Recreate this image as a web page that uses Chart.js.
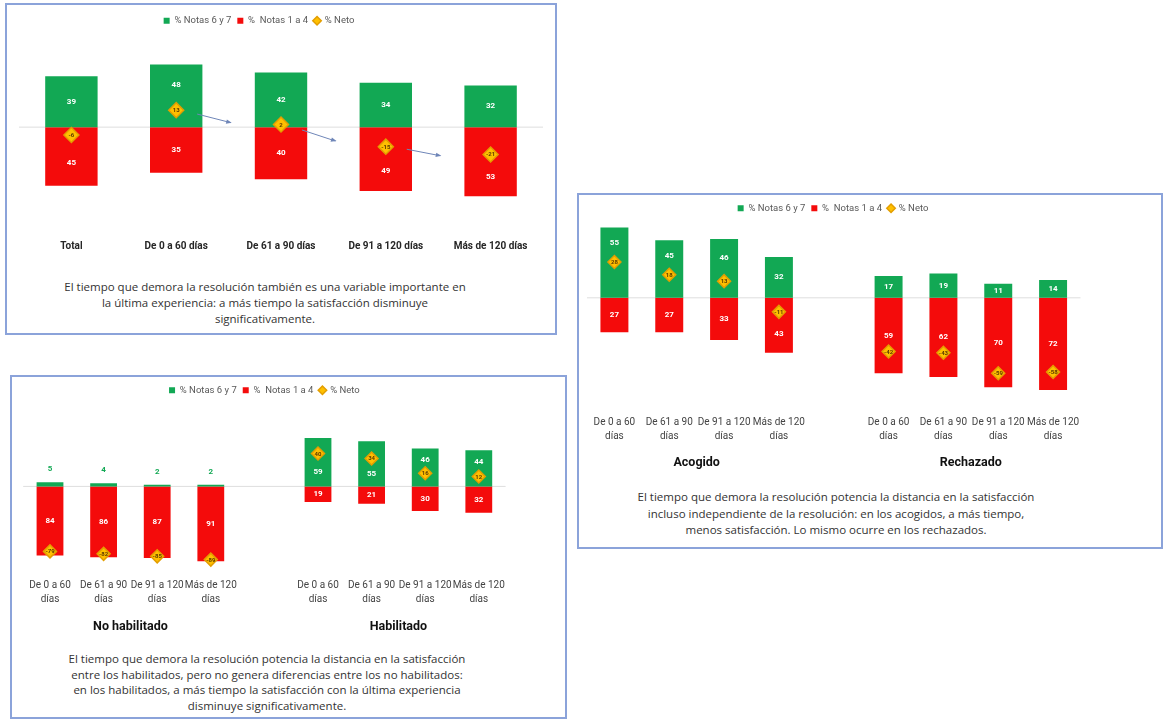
<!DOCTYPE html>
<html lang="es">
<head>
<meta charset="utf-8">
<title>Tiempo de resolución y satisfacción</title>
<script src="https://cdn.jsdelivr.net/npm/chart.js@4.4.1/dist/chart.umd.min.js"></script>
<style>
  body { margin: 0; background: #fff; width: 1164px; height: 719px; position: relative; overflow: hidden; font-family: Roboto, sans-serif; }
  .caja { position: absolute; border: 2px solid #8ba3da; box-sizing: border-box; }
  canvas { position: absolute; }
  .nota { position: absolute; text-align: center; color: #333; font-size: 11.5px; font-family: "Open Sans", sans-serif; }
</style>
</head>
<body>
<div class="caja" style="left:5px;top:3px;width:552px;height:332px"></div>
<div class="caja" style="left:577px;top:193px;width:586px;height:356px"></div>
<div class="caja" style="left:10px;top:375px;width:557px;height:344px"></div>

<canvas id="graficoTotal" width="548" height="262" style="left:7px;top:5px"></canvas>
<canvas id="graficoResolucion" width="582" height="285" style="left:579px;top:195px"></canvas>
<canvas id="graficoHabilitado" width="553" height="262" style="left:12px;top:377px"></canvas>

<div class="nota" style="left:40px;top:279px;width:450px;line-height:16px">El tiempo que demora la resolución también es una variable importante en<br>la última experiencia: a más tiempo la satisfacción disminuye<br>significativamente.</div>
<div class="nota" style="left:606px;top:489px;width:460px;line-height:16.5px">El tiempo que demora la resolución potencia la distancia en la satisfacción<br>incluso independiente de la resolución: en los acogidos, a más tiempo,<br>menos satisfacción. Lo mismo ocurre en los rechazados.</div>
<div class="nota" style="left:37px;top:651px;width:460px;line-height:15.5px">El tiempo que demora la resolución potencia la distancia en la satisfacción<br>entre los habilitados, pero no genera diferencias entre los no habilitados:<br>en los habilitados, a más tiempo la satisfacción con la última experiencia<br>disminuye significativamente.</div>

<script>
// --- datos ---
const categoriasTotal = ['Total', 'De 0 a 60 días', 'De 61 a 90 días', 'De 91 a 120 días', 'Más de 120 días'];
const totalNotas67 = [39, 48, 42, 34, 32];
const totalNotas14 = [45, 35, 40, 49, 53];
const totalNeto = [-6, 13, 2, -15, -21];

const tramosTiempo = [['De 0 a 60', 'días'], ['De 61 a 90', 'días'], ['De 91 a 120', 'días'], ['Más de 120', 'días']];

const acogidoNotas67 = [55, 45, 46, 32];
const acogidoNotas14 = [27, 27, 33, 43];
const acogidoNeto = [28, 18, 13, -11];
const rechazadoNotas67 = [17, 19, 11, 14];
const rechazadoNotas14 = [59, 62, 70, 72];
const rechazadoNeto = [-42, -43, -59, -58];

const noHabilitadoNotas67 = [5, 4, 2, 2];
const noHabilitadoNotas14 = [84, 86, 87, 91];
const noHabilitadoNeto = [-79, -82, -85, -89];
const habilitadoNotas67 = [59, 55, 46, 44];
const habilitadoNotas14 = [19, 21, 30, 32];
const habilitadoNeto = [40, 34, 16, 12];

const COLOR_VERDE = '#12a854';
const COLOR_ROJO = '#f40b0b';
const COLOR_NETO = '#ffc000';

// posición vertical de la etiqueta de una barra, apartándola del rombo del neto
function posicionValor(base, fin, yNeto, umbral) {
    const alto = Math.abs(fin - base);
    const centro = (base + fin) / 2;
    if (alto < 12) return { y: fin + Math.sign(fin - base) * 13, fuera: true };
    const arriba = Math.min(base, fin) - 8, abajo = Math.max(base, fin) + 8;
    const dentro = yNeto >= arriba && yNeto <= abajo;
    if (!dentro || Math.abs(centro - yNeto) >= umbral) return { y: centro, fuera: false };
    const haciaFin = Math.abs(fin - yNeto);
    const haciaBase = Math.abs(yNeto - base);
    if (haciaBase > haciaFin * 1.3) {
        return { y: yNeto + Math.sign(base - yNeto) * Math.max(13, 0.55 * haciaBase), fuera: false };
    }
    return { y: yNeto + Math.sign(fin - yNeto) * Math.max(13, 0.55 * haciaFin), fuera: false };
}

const pluginEtiquetas = {
    id: 'etiquetas',
    afterDatasetsDraw(chart, args, opts) {
        const ctx = chart.ctx;
        const mPos = chart.getDatasetMeta(0);
        const mNeg = chart.getDatasetMeta(1);
        const mNeto = chart.getDatasetMeta(2);
        const dNeto = chart.data.datasets[2].data;
        ctx.save();
        ctx.textAlign = 'center';
        ctx.textBaseline = 'middle';
        chart.data.datasets[0].data.forEach((v, i) => {
            if (v === null) return;
            const yNeto = mNeto.data[i].y;
            [[mPos, v], [mNeg, chart.data.datasets[1].data[i]]].forEach(([meta, valor]) => {
                const barra = meta.data[i];
                const p = posicionValor(barra.base, barra.y, yNeto, opts.umbral);
                ctx.font = 'bold 8px Roboto';
                ctx.fillStyle = p.fuera ? COLOR_VERDE : '#ffffff';
                ctx.fillText(Math.abs(valor), barra.x, p.y);
            });
            ctx.font = 'bold 6px Roboto';
            ctx.fillStyle = '#5b3900';
            ctx.fillText(dNeto[i], mNeto.data[i].x, yNeto + 0.5);
        });
        ctx.restore();
    }
};

// línea gris del cero
const pluginCero = {
    id: 'lineaCero',
    beforeDatasetsDraw(chart) {
        const ctx = chart.ctx;
        const y = chart.scales.y.getPixelForValue(0);
        ctx.save();
        ctx.strokeStyle = '#dedede';
        ctx.lineWidth = 1;
        ctx.beginPath();
        ctx.moveTo(chart.chartArea.left, y);
        ctx.lineTo(chart.chartArea.right, y);
        ctx.stroke();
        ctx.restore();
    }
};

// títulos de grupo bajo las etiquetas del eje x
const pluginGrupos = {
    id: 'grupos',
    afterDraw(chart, args, opts) {
        if (!opts.lista) return;
        const ctx = chart.ctx;
        const x = chart.scales.x;
        ctx.save();
        ctx.font = 'bold 12.5px Roboto';
        ctx.fillStyle = '#111';
        ctx.textAlign = 'center';
        ctx.textBaseline = 'middle';
        opts.lista.forEach(g => {
            const cx = (x.getPixelForValue(g.desde) + x.getPixelForValue(g.hasta)) / 2;
            ctx.fillText(g.texto, cx, chart.chartArea.bottom + opts.dy);
        });
        ctx.restore();
    }
};

// flechas entre los netos del primer gráfico
const pluginFlechas = {
    id: 'flechas',
    afterDatasetsDraw(chart, args, opts) {
        if (!opts.activo) return;
        const ctx = chart.ctx;
        const puntos = chart.getDatasetMeta(2).data;
        ctx.save();
        ctx.strokeStyle = '#6f86b8';
        ctx.fillStyle = '#6f86b8';
        ctx.lineWidth = 1;
        for (let i = 1; i < puntos.length - 1; i++) {
            const a = puntos[i], b = puntos[i + 1];
            const x0 = a.x + (b.x - a.x) * 0.2, y0 = a.y + (b.y - a.y) * 0.2 + 1;
            const x1 = a.x + (b.x - a.x) * 0.52, y1 = a.y + (b.y - a.y) * 0.52 + 5;
            const ang = Math.atan2(y1 - y0, x1 - x0);
            ctx.beginPath();
            ctx.moveTo(x0, y0);
            ctx.lineTo(x1, y1);
            ctx.stroke();
            ctx.beginPath();
            ctx.moveTo(x1 + 1, y1);
            ctx.lineTo(x1 - 5 * Math.cos(ang - 0.45), y1 - 5 * Math.sin(ang - 0.45));
            ctx.lineTo(x1 - 5 * Math.cos(ang + 0.45), y1 - 5 * Math.sin(ang + 0.45));
            ctx.closePath();
            ctx.fill();
        }
        ctx.restore();
    }
};

const pluginLeyenda = {
    id: 'desplazarLeyenda',
    afterLayout(chart, args, opts) {
        const dx = opts.dx || 0;
        if (chart.legend && dx) {
            chart.legend.left += dx;
            chart.legend.right += dx;
        }
    }
};

function crearGrafico(idCanvas, etiquetas, positivos, negativos, neto, conf) {
    const ctx = document.getElementById(idCanvas).getContext('2d');
    return new Chart(ctx, {
        data: {
            labels: etiquetas,
            datasets: [
                {
                    type: 'bar',
                    label: '% Notas 6 y 7',
                    data: positivos,
                    backgroundColor: COLOR_VERDE,
                    stack: 'notas',
                    order: 1,
                    pointStyle: 'rect',
                    barPercentage: conf.anchoBarra,
                    categoryPercentage: 1
                },
                {
                    type: 'bar',
                    label: '%  Notas 1 a 4',
                    data: negativos.map(v => v === null ? null : -v),
                    backgroundColor: COLOR_ROJO,
                    stack: 'notas',
                    order: 1,
                    pointStyle: 'rect',
                    barPercentage: conf.anchoBarra,
                    categoryPercentage: 1
                },
                {
                    type: 'line',
                    label: '% Neto',
                    data: neto,
                    stack: 'neto',
                    order: 0,
                    showLine: false,
                    pointStyle: 'rectRot',
                    pointRadius: conf.radioNeto,
                    pointHoverRadius: conf.radioNeto,
                    backgroundColor: COLOR_NETO,
                    borderColor: '#e39e00',
                    pointBackgroundColor: COLOR_NETO,
                    pointBorderColor: '#e39e00',
                    pointBorderWidth: 1.5
                }
            ]
        },
        options: {
            responsive: false,
            animation: false,
            events: [],
            layout: { padding: conf.padding },
            scales: {
                x: {
                    stacked: true,
                    grid: { display: false, drawTicks: false },
                    border: { display: false },
                    ticks: {
                        padding: conf.separacionTicks,
                        color: conf.colorTicks,
                        font: conf.fuenteTicks,
                        maxRotation: 0,
                        autoSkip: false
                    }
                },
                y: {
                    display: false,
                    stacked: true,
                    min: conf.min,
                    max: conf.max
                }
            },
            plugins: {
                legend: {
                    position: 'top',
                    labels: {
                        usePointStyle: true,
                        boxWidth: 6,
                        boxHeight: 6,
                        padding: 6,
                        color: '#595959',
                        font: { family: 'Roboto', size: 9.5 },
                        sort: (a, b) => a.datasetIndex - b.datasetIndex
                    }
                },
                tooltip: { enabled: false },
                etiquetas: { umbral: conf.umbral },
                grupos: { lista: conf.grupos, dy: conf.dyGrupos },
                flechas: { activo: conf.flechas },
                desplazarLeyenda: { dx: conf.dxLeyenda }
            }
        },
        plugins: [pluginCero, pluginEtiquetas, pluginGrupos, pluginFlechas, pluginLeyenda]
    });
}

crearGrafico('graficoTotal', categoriasTotal, totalNotas67, totalNotas14, totalNeto, {
    anchoBarra: 0.5,
    radioNeto: 7.5,
    padding: { top: 5, left: 12, right: 12, bottom: 5.6 },
    separacionTicks: 9,
    colorTicks: '#262626',
    fuenteTicks: { family: 'Roboto', size: 10, weight: 'bold' },
    min: -80,
    max: 70.3,
    umbral: 22,
    flechas: true,
    dxLeyenda: -22
});

crearGrafico('graficoResolucion',
    [...tramosTiempo, '', ...tramosTiempo],
    [...acogidoNotas67, null, ...rechazadoNotas67],
    [...acogidoNotas14, null, ...rechazadoNotas14],
    [...acogidoNeto, null, ...rechazadoNeto], {
    anchoBarra: 0.51,
    radioNeto: 6.5,
    padding: { top: 2.5, left: 6.5, right: 80.5, bottom: 27.5 },
    separacionTicks: 9,
    colorTicks: '#444',
    fuenteTicks: { family: 'Roboto', size: 10, lineHeight: 1.4 },
    min: -85,
    max: 58.5,
    umbral: 15,
    grupos: [{ texto: 'Acogido', desde: 1, hasta: 2 }, { texto: 'Rechazado', desde: 6, hasta: 7 }],
    dyGrupos: 56
});

crearGrafico('graficoHabilitado',
    [...tramosTiempo, '', ...tramosTiempo],
    [...noHabilitadoNotas67, null, ...habilitadoNotas67],
    [...noHabilitadoNotas14, null, ...habilitadoNotas14],
    [...noHabilitadoNeto, null, ...habilitadoNeto], {
    anchoBarra: 0.5,
    radioNeto: 6.5,
    padding: { top: 2.5, left: 11.2, right: 59.4, bottom: 24.7 },
    separacionTicks: 8,
    colorTicks: '#444',
    fuenteTicks: { family: 'Roboto', size: 10, lineHeight: 1.4 },
    min: -102,
    max: 99,
    umbral: 14,
    grupos: [{ texto: 'No habilitado', desde: 1, hasta: 2 }, { texto: 'Habilitado', desde: 6, hasta: 7 }],
    dyGrupos: 57
});
</script>
</body>
</html>
